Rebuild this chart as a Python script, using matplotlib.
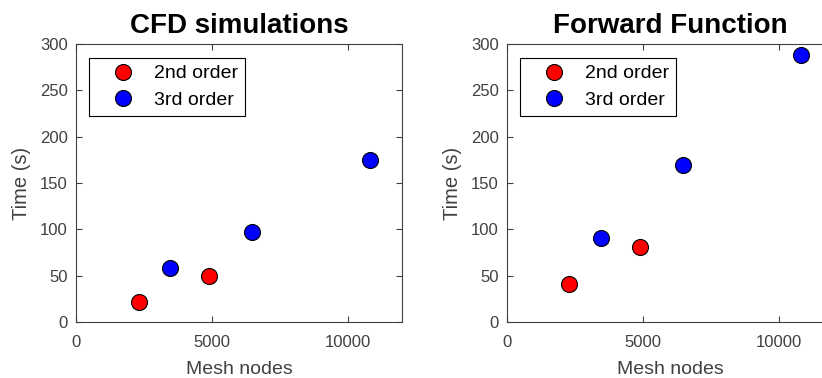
import matplotlib.pyplot as plt

plt.rcParams['font.family'] = ['Liberation Sans', 'DejaVu Sans']

# data
titles = ['CFD simulations', 'Forward Function']
nodes_2nd = [2300, 4900]
nodes_3rd = [3450, 6480, 10830]
time_2nd = {'CFD simulations': [22, 50], 'Forward Function': [41, 81]}
time_3rd = {'CFD simulations': [58, 97, 175], 'Forward Function': [91, 170, 288]}

fig = plt.figure(figsize=(8.22, 3.78), dpi=100)
positions = [[0.0925, 0.148, 0.3966, 0.7354], [0.6168, 0.148, 0.3966, 0.7354]]
grey = '#404040'

for pos, title in zip(positions, titles):
    ax = fig.add_axes(pos)
    ax.plot(nodes_2nd, time_2nd[title], 'o', color='#ff0000', mec='black', mew=0.8,
            ms=11.5, label='2nd order')
    ax.plot(nodes_3rd, time_3rd[title], 'o', color='#0000ff', mec='black', mew=0.8,
            ms=11.5, label='3rd order')
    ax.set_xlim(0, 12000)
    ax.set_ylim(0, 300)
    ax.set_xticks([0, 5000, 10000])
    ax.set_yticks(range(0, 301, 50))
    ax.tick_params(direction='in', top=True, right=True, colors=grey,
                   labelsize=12, length=4, width=0.8)
    ax.tick_params(axis='x', pad=9)
    ax.tick_params(axis='y', pad=6)
    for s in ax.spines.values():
        s.set_color(grey)
        s.set_linewidth(0.8)
    ax.set_xlabel('Mesh nodes', fontsize=14, color=grey, labelpad=8)
    ax.set_ylabel('Time (s)', fontsize=14.5, color=grey, labelpad=6)
    ax.set_title(title, fontsize=20, fontweight='bold', pad=8)
    leg = ax.legend(loc='upper left', bbox_to_anchor=(0.04, 0.95), fontsize=14,
                    fancybox=False, edgecolor='black', framealpha=1,
                    borderaxespad=0, handletextpad=0.2, borderpad=0.35,
                    labelspacing=0.45, handlelength=2.8)
    leg.get_frame().set_linewidth(0.8)

plt.savefig('out.png', dpi=100)
